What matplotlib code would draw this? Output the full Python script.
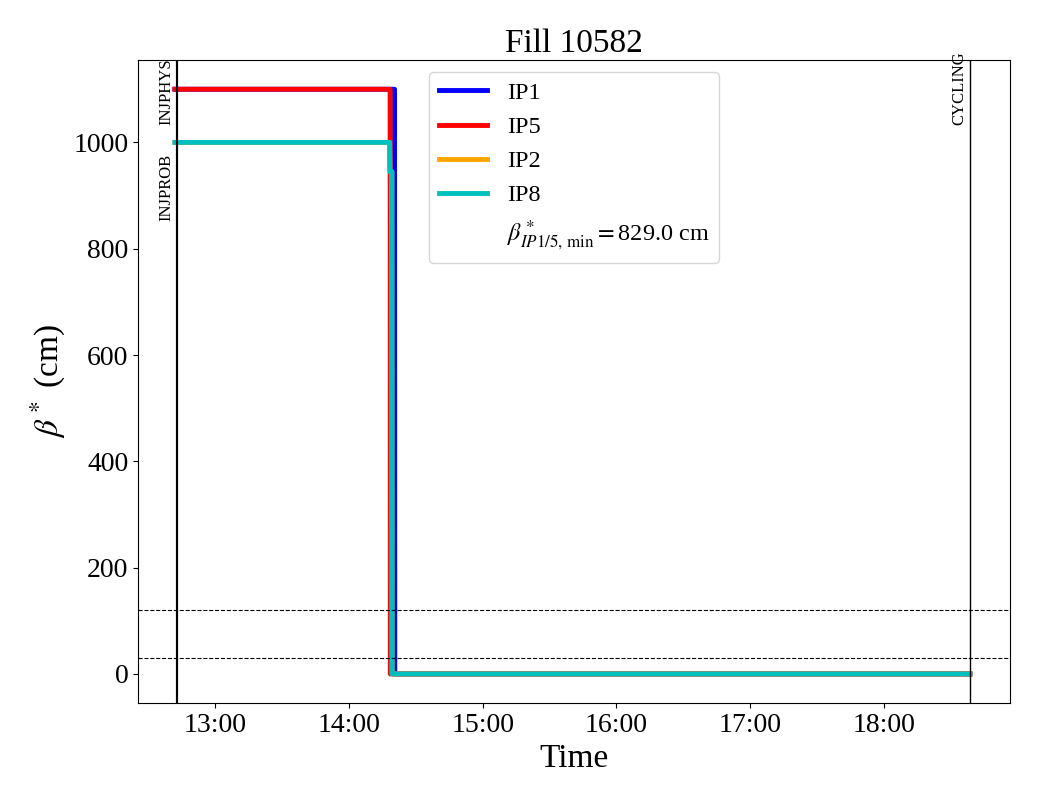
import matplotlib
matplotlib.use('Agg')
import matplotlib.pyplot as plt
import matplotlib.dates as mdates
import numpy as np
from datetime import datetime

plt.rcParams['font.family'] = ['Liberation Serif', 'DejaVu Serif']
plt.rcParams['mathtext.fontset'] = 'stix'

fill_number = 10582
day = '2025-05-20 '

# beta* per IP (cm)
ip1_times = ['12:42', '14:20.5', '14:20.6', '18:38.5']
ip1_beta = [1100, 1100, 0, 0]
ip5_times = ['12:42', '14:18.5', '14:18.6', '18:38.5']
ip5_beta = [1100, 1100, 0, 0]
ip2_times = ['12:42', '14:18.3', '14:18.4', '14:19.3', '14:19.4', '18:38.5']
ip2_beta = [1000, 1000, 945, 945, 0, 0]
ip8_times = ['12:42', '14:18.3', '14:18.4', '14:19.3', '14:19.4', '18:38.5']
ip8_beta = [1000, 1000, 945, 945, 0, 0]

mode_names = ['INJPROB', 'INJPHYS', 'CYCLING']
mode_times = ['12:43', '12:43', '18:38.5']
mode_text_y = [853, 1032, 1032]

ref_levels = [30, 120]
beta_min = 829.0


def to_dt(s):
    hm, _, frac = s.partition('.')
    h, m = hm.split(':')
    sec = int(round(float('0.' + frac) * 60)) if frac else 0
    return datetime.strptime(day + f'{int(h):02d}:{int(m):02d}:{sec:02d}', '%Y-%m-%d %H:%M:%S')


fig, ax = plt.subplots(figsize=(10.4, 8), dpi=100)
fig.subplots_adjust(left=0.133, right=0.971, top=0.925, bottom=0.121)

series = [('IP1', ip1_times, ip1_beta, 'b'),
          ('IP5', ip5_times, ip5_beta, 'r'),
          ('IP2', ip2_times, ip2_beta, 'orange'),
          ('IP8', ip8_times, ip8_beta, 'c')]
for name, tt, bb, col in series:
    ax.plot([to_dt(t) for t in tt], bb, color=col, lw=3.5, label=name)

ax.plot([], [], ' ', label=r'$\beta^*_{IP1/5,\,\min} = $' + f'{beta_min} cm')

for lvl in ref_levels:
    ax.axhline(lvl, color='k', ls='--', lw=0.8)

for name, t, y in zip(mode_names, mode_times, mode_text_y):
    x = to_dt(t)
    ax.axvline(x, color='k', lw=1.5 if name != 'CYCLING' else 1.0)
    ax.text(mdates.date2num(x) - 0.0009, y, name, rotation=90, ha='right', va='bottom', fontsize=12)

ax.xaxis.set_major_locator(mdates.HourLocator())
ax.xaxis.set_major_formatter(mdates.DateFormatter('%H:%M'))
ax.tick_params(labelsize=20)
ax.set_xlabel('Time', fontsize=24)
ax.set_ylabel(r'$\beta^*$ (cm)', fontsize=24)
ax.set_title(f'Fill {fill_number}', fontsize=24)
ax.set_xlim(to_dt('12:25.6'), to_dt('18:56.4'))
ax.set_ylim(-55, 1155)
ax.legend(loc='upper center', fontsize=17.5)

fig.savefig('out.png', dpi=100)
